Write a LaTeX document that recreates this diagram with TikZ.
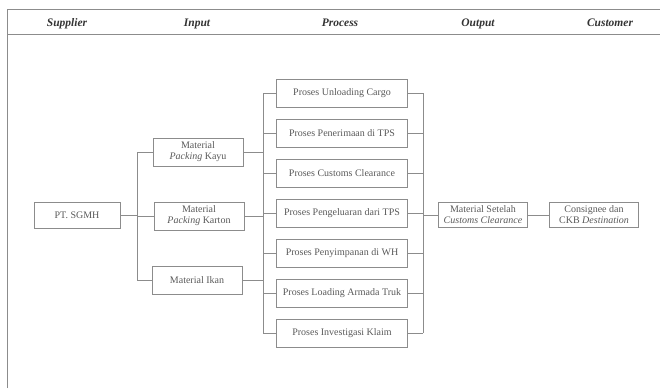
\documentclass[tikz,border=0pt]{standalone}
\usepackage{fontspec}
\setmainfont{Liberation Serif}
\begin{document}
\begin{tikzpicture}[x=1pt,y=-1pt]

\def\procspace{40}
\def\proctop{93}

\tikzstyle{line}=[draw=black!45,line width=0.8pt]
\tikzstyle{box}=[rectangle,draw=black!45,line width=0.8pt,text=black!65,font=\fontsize{10}{11}\selectfont,align=center,inner sep=0pt]
\tikzstyle{supplier}=[box,minimum width=86pt,minimum height=26pt]
\tikzstyle{input}=[box,minimum width=90pt,minimum height=28pt]
\tikzstyle{process}=[box,minimum width=131pt,minimum height=28pt]
\tikzstyle{output}=[box,minimum width=89pt,minimum height=25pt]
\tikzstyle{header}=[anchor=base,font=\fontsize{11.5}{13}\selectfont\bfseries\itshape,text=black!80]

\useasboundingbox (0,0) rectangle (660,388);

%frame
\draw[line] (7,388) -- (7,9) -- (660,9);
\draw[line] (7,34) -- (660,34);

%headers
\node[header] (hsup) at (67,26) {Supplier};
\node[header] (hin) at (197,26) {Input};
\node[header] (hproc) at (340,26) {Process};
\node[header] (hout) at (478,26) {Output};
\node[header] (hcust) at (610,26) {Customer};

%supplier
\node[supplier] (sup) at (77,215) {PT. SGMH};

%inputs
\node[input] (in1) at (198,152) {Material\\\textit{Packing} Kayu};
\node[input] (in2) at (199,216) {Material\\\textit{Packing} Karton};
\node[input] (in3) at (197,280) {Material Ikan};

%process
\node[process] (p1) at (342,\proctop+0*\procspace) {Proses Unloading Cargo};
\node[process] (p2) at (342,\proctop+1*\procspace) {Proses Penerimaan di TPS};
\node[process] (p3) at (342,\proctop+2*\procspace) {Proses Customs Clearance};
\node[process] (p4) at (342,\proctop+3*\procspace) {Proses Pengeluaran dari TPS};
\node[process] (p5) at (342,\proctop+4*\procspace) {Proses Penyimpanan di WH};
\node[process] (p6) at (342,\proctop+5*\procspace) {Proses Loading Armada Truk};
\node[process] (p7) at (342,\proctop+6*\procspace) {Proses Investigasi Klaim};

%output and customer
\node[output] (out) at (483,215) {Material Setelah\\\textit{Customs Clearance}};
\node[output] (cust) at (594,215) {Consignee dan\\CKB \textit{Destination}};

%connections supplier - input
\coordinate (trunk) at (137,215);
\draw[line] (sup) -- (trunk);
\draw[line] (in1.west) -| (trunk);
\draw[line] (in2.west) -- (in2.west -| trunk);
\draw[line] (in3.west) -| (trunk);

%connections input - process
\coordinate (busl) at (263,0);
\draw[line] (p1.west -| busl) -- (p7.west -| busl);
\draw[line] (in1.east) -- (in1.east -| busl);
\draw[line] (in2.east) -- (in2.east -| busl);
\draw[line] (in3.east) -- (in3.east -| busl);

\draw[line] (p1.west) -- (p1.west -| busl);
\draw[line] (p2.west) -- (p2.west -| busl);
\draw[line] (p3.west) -- (p3.west -| busl);
\draw[line] (p4.west) -- (p4.west -| busl);
\draw[line] (p5.west) -- (p5.west -| busl);
\draw[line] (p6.west) -- (p6.west -| busl);
\draw[line] (p7.west) -- (p7.west -| busl);

%connections process - output
\coordinate (busr) at (423,0);
\draw[line] (p1.east -| busr) -- (p7.east -| busr);
\draw[line] (p1.east) -- (p1.east -| busr);
\draw[line] (p2.east) -- (p2.east -| busr);
\draw[line] (p3.east) -- (p3.east -| busr);
\draw[line] (p4.east) -- (p4.east -| busr);
\draw[line] (p5.east) -- (p5.east -| busr);
\draw[line] (p6.east) -- (p6.east -| busr);
\draw[line] (p7.east) -- (p7.east -| busr);
\draw[line] (out.west -| busr) -- (out.west);

%output - customer
\draw[line] (out) -- (cust);

\end{tikzpicture}
\end{document}
